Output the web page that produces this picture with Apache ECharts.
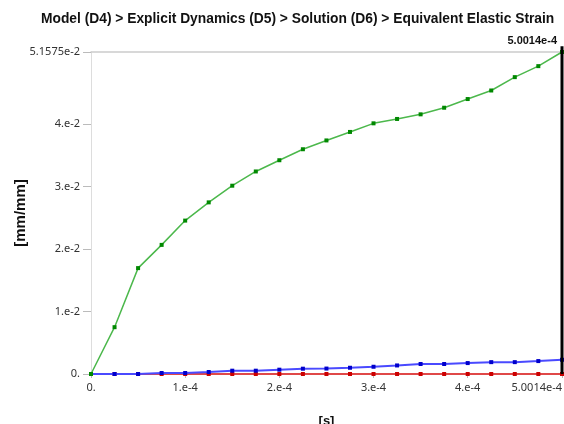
<!DOCTYPE html>
<html>
<head>
<meta charset="utf-8">
<script src="https://cdn.jsdelivr.net/npm/echarts@6/dist/echarts.min.js"></script>
<style>html,body{margin:0;padding:0;background:#fff;}#c{width:564px;height:424px;}</style>
</head>
<body>
<div id="c"></div>
<script>
var times = [0, 2.5e-5, 5e-5, 7.5e-5, 1e-4, 1.25e-4, 1.5e-4, 1.75e-4, 2e-4, 2.25e-4, 2.5e-4, 2.75e-4, 3e-4, 3.25e-4, 3.5e-4, 3.75e-4, 4e-4, 4.25e-4, 4.5e-4, 4.75e-4, 5.0014e-4];
var greenVals = [0, 0.0075, 0.01696, 0.02068, 0.02457, 0.02749, 0.03016, 0.03244, 0.03424, 0.03600, 0.03741, 0.03877, 0.04015, 0.04085, 0.04159, 0.04265, 0.04404, 0.04541, 0.04755, 0.04931, 0.051575];
var blueVals = [0, 0, 0, 0.00016, 0.00016, 0.00032, 0.00053, 0.00053, 0.00069, 0.00085, 0.00087, 0.0010, 0.00116, 0.00137, 0.0016, 0.0016, 0.00175, 0.0019, 0.0019, 0.00207, 0.00228];
var redVals = [0, 0, 0, 0, 0, 0, 0, 0, 0, 0, 0, 0, 0, 0, 0, 0, 0, 0, 0, 0, 0];
var xTickValues = [0, 1e-4, 2e-4, 3e-4, 4e-4, 5.0014e-4];
var xTickLabels = ['0.', '1.e-4', '2.e-4', '3.e-4', '4.e-4', '5.0014e-4'];
var yTickValues = [0, 0.01, 0.02, 0.03, 0.04, 0.051575];
var yTickLabels = ['0.', '1.e-2', '2.e-2', '3.e-2', '4.e-2', '5.1575e-2'];
var xMax = 5.0014e-4, yMax = 0.051575;
var cursorTime = 5.0014e-4, cursorTop = 0.0525;
var titleText = 'Model (D4) > Explicit Dynamics (D5) > Solution (D6) > Equivalent Elastic Strain';
var cursorLabel = '5.0014e-4';

function pairs(v){ return times.map(function(t,i){ return [t, v[i]]; }); }
function lab(vals, labs){ return function(v){ for (var i=0;i<vals.length;i++){ if (Math.abs(vals[i]-v) < 1e-9) return labs[i]; } return ''; }; }

var chart = echarts.init(document.getElementById('c'), null, {renderer:'canvas'});
var font = 'Liberation Sans, Arial, sans-serif';
chart.setOption({
  animation: false,
  title: [
    {text: titleText, left: 36, top: 7, textStyle:{fontFamily: font, fontSize: 13.8, fontWeight:'bold', color:'#111'}},
    {text: cursorLabel, right: 2, top: 30, textStyle:{fontFamily: font, fontSize: 11, fontWeight:'bold', color:'#111'}}
  ],
  grid: {left: 91, right: 2, top: 52, bottom: 50, containLabel:false, outerBoundsMode:'none'},
  xAxis: [{
    type:'value', min:0, max:xMax,
    name:'[s]', nameLocation:'middle', nameGap: 41, nameMoveOverlap: false,
    nameTextStyle:{fontFamily: font, fontSize: 13, fontWeight:'bold', color:'#111'},
    axisLine:{show:true, lineStyle:{color:'#cccccc'}},
    axisTick:{show:true, customValues: xTickValues, length:4, lineStyle:{color:'#bbbbbb'}},
    axisLabel:{customValues: xTickValues, formatter: lab(xTickValues, xTickLabels), alignMaxLabel:'right', fontFamily:'Noto Sans, sans-serif', fontSize:11, color:'#333', margin:8},
    splitLine:{show:false}
  },{
    type:'value', min:0, max:xMax, position:'top',
    axisLine:{show:true, lineStyle:{color:'#cccccc', width:1.5}},
    axisTick:{show:false}, axisLabel:{show:false}, splitLine:{show:false}
  }],
  yAxis: {
    type:'value', min:0, max:yMax,
    name:'[mm/mm]', nameLocation:'middle', nameGap: 63, nameRotate: 90, nameMoveOverlap: false,
    nameTextStyle:{fontFamily: font, fontSize: 15, fontWeight:'bold', color:'#111'},
    axisLine:{show:true, lineStyle:{color:'#dddddd'}},
    axisTick:{show:true, customValues: yTickValues, length:8, lineStyle:{color:'#bbbbbb'}},
    axisLabel:{customValues: yTickValues, formatter: lab(yTickValues, yTickLabels), fontFamily:'Noto Sans, sans-serif', fontSize:11, color:'#333', margin:11},
    splitLine:{show:false}
  },
  series: [
    {type:'line', data: pairs(redVals), symbol:'rect', symbolSize:4, itemStyle:{color:'#cc0000'}, lineStyle:{color:'#e04848', width:2}, z:2},
    {type:'line', data: pairs(blueVals), symbol:'rect', symbolSize:4, itemStyle:{color:'#0000cc'}, lineStyle:{color:'#4a4aff', width:2}, z:3},
    {type:'line', data: [[cursorTime, 0], [cursorTime, cursorTop]], clip:false, symbol:'none', lineStyle:{color:'#000', width:3}, z:5},
    {type:'line', data: pairs(greenVals), symbol:'rect', symbolSize:4, itemStyle:{color:'#008800'}, lineStyle:{color:'#4cb84c', width:1.5}, z:4}
  ]
});
</script>
</body>
</html>
